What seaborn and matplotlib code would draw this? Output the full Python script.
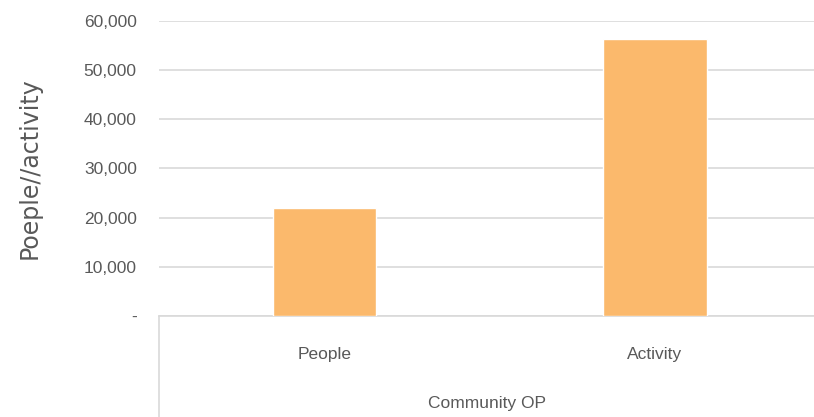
import matplotlib
matplotlib.use("Agg")
import matplotlib.pyplot as plt
import seaborn as sns
import pandas as pd
from matplotlib.lines import Line2D
from matplotlib.ticker import FuncFormatter

categories = ["People", "Activity"]
values = [22000, 56300]
y_ticks = [0, 10000, 20000, 30000, 40000, 50000, 60000]

sns.set_theme(style="white")
plt.rcParams['font.family'] = ['Liberation Sans', 'DejaVu Sans']

W, H = 814, 417
fig = plt.figure(figsize=(W / 100, H / 100), dpi=100)
ax = fig.add_axes([159 / W, (H - 316) / H, (W - 159) / W, (316 - 21) / H])

df = pd.DataFrame({"cat": categories, "val": values})
sns.barplot(data=df, x="cat", y="val", color="#FBB96C", width=0.313, ax=ax,
            saturation=1, zorder=3)

ax.set_ylim(0, 60000)
ax.set_xlim(-0.5, 1.481)
ax.set_yticks(y_ticks)
ax.yaxis.set_major_formatter(FuncFormatter(lambda v, p: "-" if v == 0 else f"{int(v):,}"))
ax.grid(axis="y", color="#d9d9d9", linewidth=1.2, zorder=0)
for s in ["top", "right", "left"]:
    ax.spines[s].set_visible(False)
ax.spines["bottom"].set_color("#d9d9d9")
ax.spines["bottom"].set_linewidth(1.2)
ax.tick_params(axis="both", length=0, labelsize=12.5, colors="#595959")
ax.tick_params(axis="y", pad=16)
ax.tick_params(axis="x", pad=22)
ax.set_xlabel("Community OP", fontsize=12.5, color="#595959", labelpad=25)
ax.set_ylabel("")

fig.text(30 / W, 1 - 168 / H, "Poeple//activity", rotation=90, ha="center", va="center",
         fontsize=17, color="#595959", family=["DejaVu Sans"])

fig.add_artist(Line2D([159 / W, 159 / W], [0, (H - 316) / H], color="#d9d9d9", linewidth=1.2))

fig.savefig("out.png", dpi=100)
